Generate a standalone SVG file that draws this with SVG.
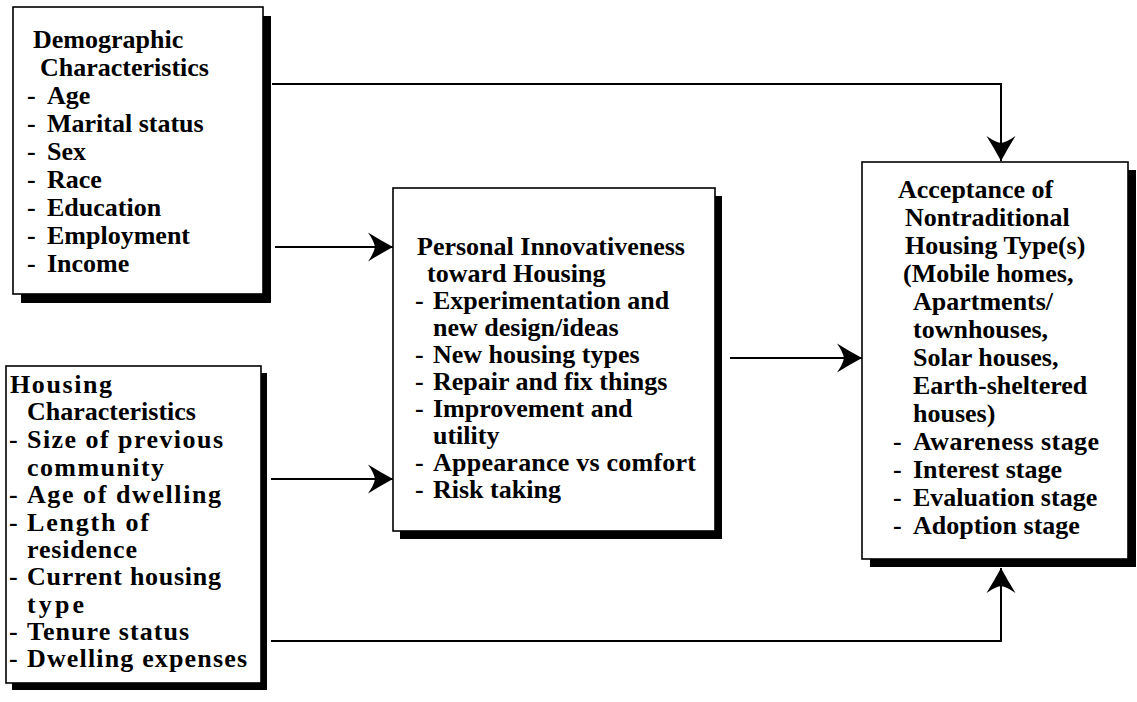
<svg xmlns="http://www.w3.org/2000/svg" width="1137" height="702" viewBox="0 0 1137 702">
<style>
.box{fill:#fff;stroke:#000;stroke-width:1.6}
.sh{fill:#000}
.t{font-family:"Liberation Serif","Times New Roman",serif;font-weight:bold;font-size:26px;fill:#000}
.c{fill:none;stroke:#000;stroke-width:2}
</style>
<defs>
<marker id="ah" markerUnits="userSpaceOnUse" markerWidth="27" markerHeight="31" refX="25" refY="15" orient="auto" viewBox="0 0 27 31">
<path d="M25,15 Q12,8 0,0.5 Q6,9 7,15 Q6,21 0,29.5 Q12,22 25,15 Z" fill="#000"/>
</marker>
</defs>
<rect width="1137" height="702" fill="#fff"/>
<g id="connectors">
<path class="c" d="M272,84 H1001 V161" marker-end="url(#ah)"/>
<path class="c" d="M275,247 H393" marker-end="url(#ah)"/>
<path class="c" d="M271,479 H393" marker-end="url(#ah)"/>
<path class="c" d="M730,358 H862" marker-end="url(#ah)"/>
<path class="c" d="M271,641 H1001 V568" marker-end="url(#ah)"/>
</g>
<g id="demographic">
<rect class="sh" x="21" y="16" width="250" height="287"/>
<rect class="box" x="13" y="7" width="250" height="287"/>
<text class="t" x="33" y="48">Demographic</text>
<text class="t" x="40" y="76">Characteristics</text>
<text class="t" x="27" y="104">-<tspan x="47">Age</tspan></text>
<text class="t" x="27" y="132">-<tspan x="47">Marital status</tspan></text>
<text class="t" x="27" y="160">-<tspan x="47">Sex</tspan></text>
<text class="t" x="27" y="188">-<tspan x="47">Race</tspan></text>
<text class="t" x="27" y="216">-<tspan x="47">Education</tspan></text>
<text class="t" x="27" y="244">-<tspan x="47">Employment</tspan></text>
<text class="t" x="27" y="272">-<tspan x="47">Income</tspan></text>
</g>
<g id="housing">
<rect class="sh" x="12" y="373" width="255" height="317"/>
<rect class="box" x="6" y="366" width="255" height="317"/>
<text class="t" x="10" y="393" textLength="102" lengthAdjust="spacing">Housing</text>
<text class="t" x="27" y="420">Characteristics</text>
<text class="t" x="9" y="448">-<tspan x="27" textLength="196" lengthAdjust="spacing">Size of previous</tspan></text>
<text class="t" x="27" y="476" textLength="137" lengthAdjust="spacing">community</text>
<text class="t" x="9" y="503">-<tspan x="27" textLength="194" lengthAdjust="spacing">Age of dwelling</tspan></text>
<text class="t" x="9" y="531">-<tspan x="27" textLength="122" lengthAdjust="spacing">Length of</tspan></text>
<text class="t" x="27" y="558" textLength="110" lengthAdjust="spacing">residence</text>
<text class="t" x="9" y="585">-<tspan x="27" textLength="194" lengthAdjust="spacing">Current housing</tspan></text>
<text class="t" x="27" y="613" textLength="57" lengthAdjust="spacing">type</text>
<text class="t" x="9" y="640">-<tspan x="27" textLength="162" lengthAdjust="spacing">Tenure status</tspan></text>
<text class="t" x="9" y="667">-<tspan x="27" textLength="220" lengthAdjust="spacing">Dwelling expenses</tspan></text>
</g>
<g id="innovativeness">
<rect class="sh" x="400" y="196" width="322" height="343"/>
<rect class="box" x="393" y="188" width="322" height="343"/>
<text class="t" x="417" y="255">Personal Innovativeness</text>
<text class="t" x="427" y="282">toward Housing</text>
<text class="t" x="415" y="309">-<tspan x="433">Experimentation and</tspan></text>
<text class="t" x="433" y="336">new design/ideas</text>
<text class="t" x="415" y="363">-<tspan x="433">New housing types</tspan></text>
<text class="t" x="415" y="390">-<tspan x="433">Repair and fix things</tspan></text>
<text class="t" x="415" y="417">-<tspan x="433">Improvement and</tspan></text>
<text class="t" x="433" y="444">utility</text>
<text class="t" x="415" y="471">-<tspan x="433" textLength="263" lengthAdjust="spacing">Appearance vs comfort</tspan></text>
<text class="t" x="415" y="498">-<tspan x="433">Risk taking</tspan></text>
</g>
<g id="acceptance">
<rect class="sh" x="870" y="170" width="266" height="397"/>
<rect class="box" x="862" y="162" width="266" height="397"/>
<text class="t" x="898" y="198">Acceptance of</text>
<text class="t" x="905" y="226">Nontraditional</text>
<text class="t" x="905" y="254">Housing Type(s)</text>
<text class="t" x="903" y="282">(Mobile homes,</text>
<text class="t" x="913" y="310">Apartments/</text>
<text class="t" x="913" y="338">townhouses,</text>
<text class="t" x="913" y="366">Solar houses,</text>
<text class="t" x="913" y="394">Earth-sheltered</text>
<text class="t" x="913" y="422">houses)</text>
<text class="t" x="893" y="450">-<tspan x="913" textLength="186" lengthAdjust="spacing">Awareness stage</tspan></text>
<text class="t" x="893" y="478">-<tspan x="913">Interest stage</tspan></text>
<text class="t" x="893" y="506">-<tspan x="913">Evaluation stage</tspan></text>
<text class="t" x="893" y="534">-<tspan x="913">Adoption stage</tspan></text>
</g>
</svg>
